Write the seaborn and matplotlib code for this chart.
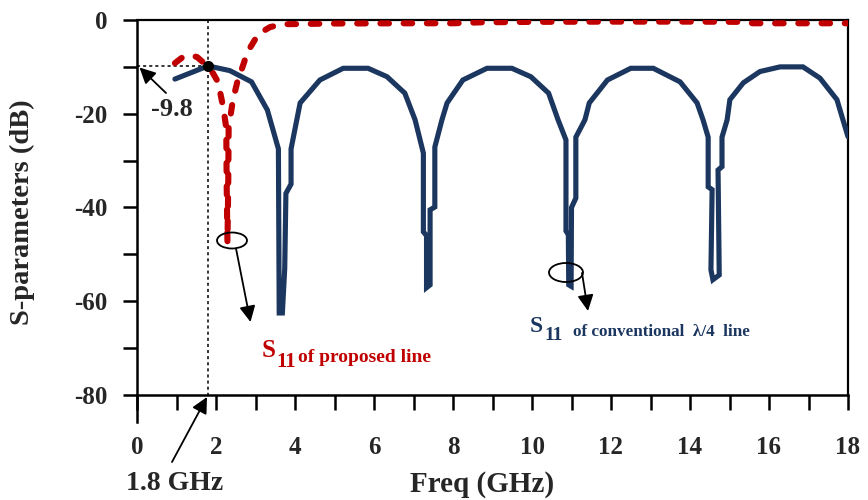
import matplotlib
matplotlib.use("Agg")
import matplotlib.pyplot as plt
import seaborn as sns
import pandas as pd
from matplotlib.patches import Ellipse

# ---------------- data ----------------
freq_conv = [0.96, 1.80, 2.35, 2.90, 3.30, 3.58, 3.60, 3.68, 3.74, 3.77, 3.90, 3.90, 4.13,
             4.63, 5.22, 5.85, 6.33, 6.78, 7.04, 7.25, 7.25, 7.33, 7.33, 7.42, 7.42, 7.54,
             7.54, 7.72, 7.85, 8.25, 8.86, 9.49, 9.97, 10.42, 10.66, 10.86, 10.86, 10.92, 10.93,
             10.99, 11.00, 11.11, 11.11, 11.34, 11.45, 11.91, 12.50, 13.07, 13.75, 14.18,
             14.33, 14.46, 14.46, 14.56, 14.53, 14.58, 14.74, 14.71, 14.81, 14.81, 14.94,
             15.01, 15.35, 15.77, 16.28, 16.86, 17.29, 17.72, 18.00]
s11_conv = [-12.6, -9.8, -10.8, -13.2, -19.2, -27.5, -62.5, -62.5, -53.0, -37.0, -35.0, -27.5, -17.7,
            -12.8, -10.3, -10.3, -12.1, -15.6, -21.3, -28.4, -45.2, -46.0, -57.1, -56.5, -40.5, -39.9,
            -27.1, -21.3, -17.7, -12.8, -10.3, -10.3, -12.1, -15.6, -21.3, -25.6, -45.0, -45.8, -56.5,
            -56.8, -40.0, -38.0, -25.0, -21.3, -17.7, -12.8, -10.3, -10.3, -13.2, -17.7,
            -21.3, -25.0, -35.6, -36.2, -53.3, -55.4, -54.4, -32.0, -31.3, -25.0, -21.3,
            -17.0, -13.4, -11.0, -10.0, -10.0, -12.4, -17.0, -24.9]

freq_prop = [0.96, 1.16, 1.35, 1.52, 1.67, 1.92, 2.05, 2.18, 2.26, 2.27, 2.29, 2.31, 2.32,
             2.43, 2.56, 2.66, 2.80, 3.00, 3.11, 3.37, 3.70, 5.00, 7.00, 8.00, 8.70,
             10.00, 12.00, 14.00, 15.30, 15.60, 17.00, 18.00]
s11_prop = [-9.2, -7.9, -7.5, -7.9, -9.0, -11.3, -13.2, -18.5, -23.0, -35.0, -47.5, -35.0, -23.0,
            -17.0, -12.5, -10.3, -6.8, -4.0, -2.8, -1.5, -0.9, -0.75, -0.7, -0.7, -0.5,
            -0.4, -0.35, -0.35, -0.4, -0.7, -0.7, -0.7]

xtick_vals = [0, 2, 4, 6, 8, 10, 12, 14, 16, 18]
ytick_vals = [0, -20, -40, -60, -80]
marker_freq = 1.8
marker_db = -9.8

df_conv = pd.DataFrame({"Freq": freq_conv, "S11": s11_conv})
df_prop = pd.DataFrame({"Freq": freq_prop, "S11": s11_prop})

# ---------------- style ----------------
sns.set_theme(style="white")
plt.rcParams["font.family"] = ["Liberation Serif", "DejaVu Serif"]
plt.rcParams["font.weight"] = "bold"

W, H = 868, 500
fig = plt.figure(figsize=(W / 100, H / 100), dpi=100)
fig.patch.set_facecolor("white")

def fx(px):
    return px / W

def fy(py):
    return 1 - py / H

YMIN = -85.76
ax = fig.add_axes([fx(137), fy(422), (848 - 137) / W, (422 - 20) / H])
ax.set_facecolor("white")

BLUE = "#1B365F"
RED = "#C00000"

sns.lineplot(data=df_conv, x="Freq", y="S11", ax=ax, sort=False, estimator=None,
             color=BLUE, linewidth=3.7, solid_joinstyle="miter", solid_capstyle="round", zorder=3)
sns.lineplot(data=df_prop, x="Freq", y="S11", ax=ax, sort=False, estimator=None,
             color=RED, linewidth=4.4, linestyle=(0, (1.4, 2.4)),
             dash_capstyle="round", zorder=4)

ax.set_xlim(0, 18)
ax.set_ylim(YMIN, 0)

# spines
for s in ["left", "bottom", "top", "right"]:
    ax.spines[s].set_visible(True)
    ax.spines[s].set_color("black")
    ax.spines[s].set_linewidth(1.8)
ax.spines["bottom"].set_position(("data", -80))
ax.spines["right"].set_bounds(-80, 0)
ax.spines["top"].set_linewidth(1.6)
ax.spines["right"].set_linewidth(1.6)

ax.set_xticks(xtick_vals)
ax.set_xticks(list(range(0, 19)), minor=True)
ax.set_yticks(ytick_vals)
ax.set_yticks(list(range(0, -81, -10)), minor=True)
ax.set_xticklabels([str(v) for v in xtick_vals])
ax.set_yticklabels([str(v) for v in ytick_vals])
ax.tick_params(axis="x", which="both", direction="out", length=10.5, width=1.8,
               bottom=True, top=False, color="black")
ax.tick_params(axis="x", which="major", labelsize=18, pad=19)
ax.tick_params(axis="y", which="both", direction="out", length=10, width=1.8,
               left=True, right=False, color="black")
ax.tick_params(axis="y", which="major", labelsize=18, pad=11)
for lab in ax.get_xticklabels() + ax.get_yticklabels():
    lab.set_fontweight("bold")
ax.set_xlabel("")
ax.set_ylabel("")
ax.grid(False)

# axis titles
fig.text(fx(22), fy(212), "S-parameters (dB)", rotation=90, ha="center", va="center",
         fontsize=20.5, fontweight="bold")
fig.text(fx(482), fy(484), "Freq (GHz)", ha="center", va="center",
         fontsize=21, fontweight="bold")

# dotted guide lines + marker
ax.plot([0, marker_freq], [marker_db, marker_db], color="black", lw=1.1,
        linestyle=(0, (2, 2)), zorder=2)
ax.plot([marker_freq, marker_freq], [0, -80], color="black", lw=1.1,
        linestyle=(0, (2, 2)), zorder=2)
ax.plot([marker_freq], [marker_db], marker="o", color="black", markersize=7, zorder=6)

def d(px, py):
    return ((px - 137) / 39.5, -(py - 20) / 4.6875)

arrow_kw = dict(arrowstyle="-|>", color="black", lw=1.3, mutation_scale=24,
                shrinkA=0, shrinkB=0)

# -9.8 annotation
ax.annotate("", xy=d(139.5, 67.5), xytext=d(166, 93), arrowprops=arrow_kw,
            annotation_clip=False)
fig.text(fx(172), fy(109), "-9.8", ha="center", va="center", fontsize=19, fontweight="bold")

# 1.8 GHz annotation
ax.annotate("", xy=d(207, 397), xytext=d(172, 462), arrowprops=arrow_kw,
            annotation_clip=False)
fig.text(fx(175), fy(484), "1.8 GHz", ha="center", va="center", fontsize=20, fontweight="bold")

# ellipses + arrows
e1c = d(232, 240.5)
ax.add_patch(Ellipse(e1c, 30 / 39.5, 16 / 4.6875, fill=False, edgecolor="black", lw=1.3, zorder=7))
ax.annotate("", xy=d(250.5, 322), xytext=d(236, 248.5), arrowprops=arrow_kw,
            annotation_clip=False)
e2c = d(566, 272.5)
ax.add_patch(Ellipse(e2c, 34 / 39.5, 19 / 4.6875, fill=False, edgecolor="black", lw=1.3, zorder=7))
ax.annotate("", xy=d(588, 311), xytext=d(582, 273), arrowprops=arrow_kw,
            annotation_clip=False)

# curve labels
fig.text(fx(262), fy(357), "S", color=RED, fontsize=18, fontweight="bold", ha="left", va="baseline")
fig.text(fx(276), fy(367), "11", color=RED, fontsize=15, fontweight="bold", ha="left", va="baseline")
fig.text(fx(298), fy(362), "of proposed line", color=RED, fontsize=14, fontweight="bold",
         ha="left", va="baseline")

fig.text(fx(530), fy(332), "S", color=BLUE, fontsize=17, fontweight="bold", ha="left", va="baseline")
fig.text(fx(544), fy(340), "11", color=BLUE, fontsize=14, fontweight="bold", ha="left", va="baseline")
fig.text(fx(573), fy(336), "of conventional  \u03bb/4  line", color=BLUE, fontsize=12.3,
         fontweight="bold", ha="left", va="baseline")

fig.savefig("out.png", dpi=100, facecolor="white")
